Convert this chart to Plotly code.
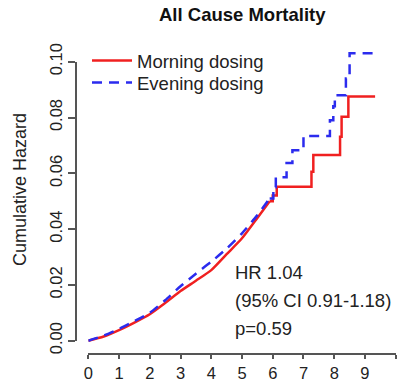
import plotly.graph_objects as go

# ---- data ----
x_ticks = [0, 1, 2, 3, 4, 5, 6, 7, 8, 9, 10]
x_ticklabels = ["0", "1", "2", "3", "4", "5", "6", "7", "8", "9", ""]
y_ticks = [0.00, 0.02, 0.04, 0.06, 0.08, 0.10]
y_ticklabels = ["0.00", "0.02", "0.04", "0.06", "0.08", "0.10"]

# smooth early part of cumulative hazard
morning_t_smooth = [0, 0.5, 1, 1.5, 2, 2.5, 3, 3.5, 4, 4.5, 5, 5.5, 5.9]
morning_h_smooth = [0, 0.0015, 0.0038, 0.0065, 0.0095, 0.0135, 0.0178, 0.0215, 0.0253, 0.031, 0.0367, 0.044, 0.050]
# step part
morning_t_step = [5.9, 6.0, 6.13, 7.26, 7.32, 8.19, 8.24, 8.46, 9.33]
morning_h_step = [0.050, 0.052, 0.0552, 0.0606, 0.0666, 0.0731, 0.0803, 0.0875, 0.0875]

evening_t_smooth = [0, 0.5, 1, 1.5, 2, 2.5, 3, 3.5, 4, 4.5, 5, 5.5, 5.9]
evening_h_smooth = [0, 0.0018, 0.0042, 0.007, 0.0100, 0.0145, 0.0195, 0.024, 0.0283, 0.033, 0.0385, 0.045, 0.051]
evening_t_step = [5.9, 6.02, 6.1, 6.45, 6.64, 7.0, 7.86, 7.97, 8.02, 8.38, 8.5, 9.33]
evening_h_step = [0.051, 0.055, 0.0586, 0.0637, 0.0683, 0.0734, 0.079, 0.084, 0.088, 0.094, 0.103, 0.103]

title_text = "All Cause Mortality"
y_title = "Cumulative Hazard"
stats_lines = ["HR 1.04", "(95% CI 0.91-1.18)", "p=0.59"]

W, H = 399, 382
RED = "#f02020"
BLUE = "#2b2bee"
TXT = "#222222"
AX = "#555555"
FONT = "Liberation Sans, Arial, sans-serif"
DASH = "10px,7px"

def px_x(p):
    return p / W

def px_y(p):
    return 1 - p / H

def val_at(py):
    # y=0 at py 340.7, 0.10 at py 61.7
    return (340.7 - py) / 2790.0

fig = go.Figure()
fig.add_trace(go.Scatter(x=morning_t_smooth, y=morning_h_smooth, mode="lines",
                         line=dict(color=RED, width=2.5, shape="spline", smoothing=0.6),
                         name="Morning dosing", legendgroup="m", showlegend=True, legend="legend"))
fig.add_trace(go.Scatter(x=morning_t_step, y=morning_h_step, mode="lines",
                         line=dict(color=RED, width=2.5, shape="hv"), name="Morning dosing",
                         legendgroup="m", showlegend=False))
fig.add_trace(go.Scatter(x=evening_t_smooth, y=evening_h_smooth, mode="lines",
                         line=dict(color=BLUE, width=2.5, dash=DASH, shape="spline", smoothing=0.6),
                         name="Evening dosing", legendgroup="e", showlegend=True, legend="legend2"))
fig.add_trace(go.Scatter(x=evening_t_step, y=evening_h_step, mode="lines",
                         line=dict(color=BLUE, width=2.5, dash=DASH, shape="hv"), name="Evening dosing",
                         legendgroup="e", showlegend=False))
# empty trace so that the visible y axis (yaxis2) is drawn
fig.add_trace(go.Scatter(x=[], y=[], xaxis="x", yaxis="y2", showlegend=False, hoverinfo="skip"))

leg_common = dict(xanchor="left", yanchor="middle", bgcolor="rgba(0,0,0,0)",
                  font=dict(size=18.5, color=TXT, family=FONT), itemwidth=40)

fig.update_layout(
    width=W, height=H,
    margin=dict(l=0, r=0, t=0, b=0, autoexpand=False),
    paper_bgcolor="white", plot_bgcolor="rgba(0,0,0,0)",
    font=dict(family=FONT, color=TXT, size=17),
    showlegend=True,
    legend=dict(x=px_x(87), y=px_y(61), **leg_common),
    legend2=dict(x=px_x(87), y=px_y(83), **leg_common),
    xaxis=dict(domain=[px_x(88.3), px_x(395.7)], range=[0, 10], anchor="free",
               position=px_y(354), showline=True, linecolor=AX, linewidth=1.5,
               ticks="outside", ticklen=4, tickwidth=1.5, tickcolor=AX,
               tickvals=x_ticks, ticktext=x_ticklabels, showgrid=False, zeroline=False,
               tickfont=dict(size=16.5, color=TXT), automargin=False),
    yaxis=dict(domain=[px_y(354), px_y(40)], range=[val_at(354), val_at(40)],
               visible=False, showgrid=False, zeroline=False, automargin=False),
    yaxis2=dict(domain=[px_y(340.7), px_y(61.7)], range=[0, 0.10], anchor="free",
                position=px_x(76), side="left", showline=True, linecolor=AX, linewidth=1.5,
                ticks="outside", ticklen=7, tickwidth=1.5, tickcolor=AX,
                tickvals=y_ticks, ticktext=y_ticklabels, tickangle=-90,
                showgrid=False, zeroline=False, tickfont=dict(size=16.5, color=TXT),
                automargin=False),
)

fig.add_annotation(text="<b>" + title_text + "</b>", xref="paper", yref="paper",
                   x=px_x(242), y=px_y(15), xanchor="center", yanchor="middle",
                   showarrow=False, font=dict(size=18.5, color="#111111"))
fig.add_annotation(text=y_title, xref="paper", yref="paper", textangle=-90,
                   x=px_x(20), y=px_y(190), xanchor="center", yanchor="middle",
                   showarrow=False, font=dict(size=18, color=TXT))
for i, s in enumerate(stats_lines):
    fig.add_annotation(text=s, xref="paper", yref="paper",
                       x=px_x(233), y=px_y(272 + 28 * i), xanchor="left", yanchor="middle",
                       showarrow=False, font=dict(size=18.5, color=TXT))

fig.write_html("out.html")
